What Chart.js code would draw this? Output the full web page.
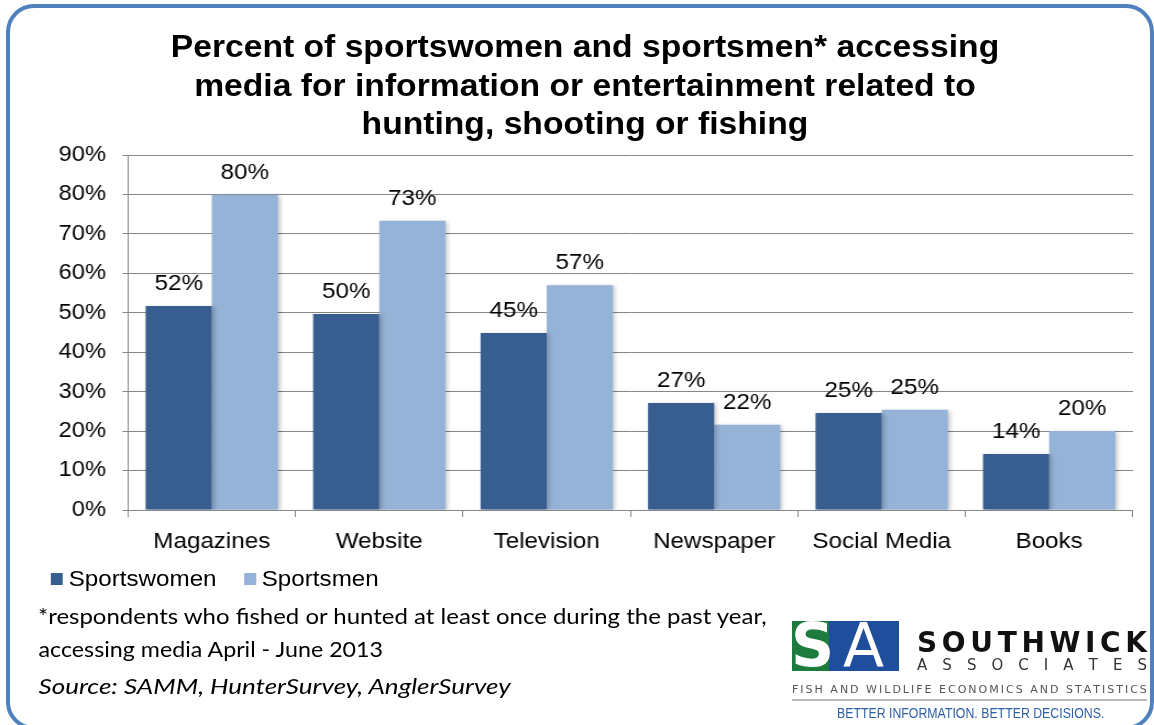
<!DOCTYPE html>
<html><head><meta charset="utf-8">
<script src="https://cdn.jsdelivr.net/npm/chart.js@4.4.1/dist/chart.umd.min.js"></script>
<style>
html,body{margin:0;padding:0;background:#fff;}
#wrap{position:relative;width:1154px;height:725px;overflow:hidden;font-family:"Liberation Sans",Arial,sans-serif;}
#scaled{position:absolute;left:0;top:0;width:1049px;height:725px;transform:scaleX(1.1);transform-origin:0 0;}
#frame{position:absolute;left:6px;top:4px;width:1148px;height:726px;border:4px solid #4F81BD;border-radius:28px;box-sizing:border-box;}
#c{position:absolute;left:0;top:0;}
#title{position:absolute;left:0;width:1063.6px;top:27px;text-align:center;font-weight:bold;font-size:30.6px;line-height:38.5px;color:#000;white-space:nowrap;}
#legend{position:absolute;left:46.4px;top:566px;font-size:22px;display:flex;align-items:center;}
.li{display:flex;align-items:center;margin-right:25px;}
.sw{width:11px;height:12px;margin-right:5px;}
.note{position:absolute;left:34.5px;font-family:Lato,"Open Sans",sans-serif;font-size:21.8px;color:#000;white-space:nowrap;transform-origin:0 0;}
.spread{display:flex;justify-content:space-between;white-space:pre;}
</style></head>
<body><div id="wrap">
<div id="scaled">
<canvas id="c" width="1049" height="725"></canvas>
<div id="title">Percent of sportswomen and sportsmen* accessing<br>media for information or entertainment related to<br>hunting, shooting or fishing</div>
<div id="legend"></div>
<div class="note" style="top:602px">*respondents who fished or hunted at least once during the past year,</div>
<div class="note" style="top:635px;transform:scaleX(0.969)">accessing media April - June 2013</div>
<div class="note" style="top:672px;font-style:italic;transform:scaleX(1.085)">Source: SAMM, HunterSurvey, AnglerSurvey</div>
</div>
<div id="frame"></div>
<div id="logo">
  <div style="position:absolute;left:792px;top:621px;width:37px;height:50px;background:#1E7B3E;"></div>
  <div style="position:absolute;left:829px;top:621px;width:70px;height:50px;background:#1F4E9C;"></div>
  <div style="position:absolute;left:791px;top:614px;width:60px;height:62px;font:bold 60px 'DejaVu Sans';color:#fff;line-height:62px;">S</div>
  <div style="position:absolute;left:843px;top:614px;width:60px;height:62px;font:60px 'DejaVu Sans';color:#fff;line-height:62px;">A</div>
  <div id="sw" class="spread" style="position:absolute;left:917px;top:628px;width:230px;font:900 28px 'DejaVu Sans';color:#111;line-height:29px;"></div>
  <div id="as" class="spread" style="position:absolute;left:917px;top:658px;width:230px;font:15px 'DejaVu Sans';color:#333;line-height:15px;"></div>
  <div id="fw" class="spread" style="position:absolute;left:792px;top:684px;width:355px;font:11px 'DejaVu Sans';color:#555;line-height:12px;"></div>
  <div style="position:absolute;left:792px;top:699px;width:355px;height:2px;background:#bbb;"></div>
  <div style="position:absolute;left:837px;top:705px;font:14px 'Liberation Sans';color:#2E5FA8;white-space:nowrap;transform:scaleX(0.88);transform-origin:0 0;">BETTER INFORMATION. BETTER DECISIONS.</div>
</div>
</div>
<script>
const categories = ['Magazines','Website','Television','Newspaper','Social Media','Books'];
const sportswomen = [51.7, 49.7, 44.9, 27.1, 24.6, 14.2];
const sportsmen = [79.9, 73.3, 57.0, 21.6, 25.4, 20.0];
const seriesNames = ['Sportswomen','Sportsmen'];
const seriesColors = ['#375E8F','#95B3D7'];
const yTicks = [0,10,20,30,40,50,60,70,80,90];

function spread(id, txt){ const el=document.getElementById(id); txt.split('').forEach(ch=>{const s=document.createElement('span');s.textContent=ch;el.appendChild(s);}); }
spread('sw','SOUTHWICK'); spread('as','ASSOCIATES'); spread('fw','FISH AND WILDLIFE ECONOMICS AND STATISTICS');

const lg=document.getElementById('legend');
seriesNames.forEach((n,i)=>{const d=document.createElement('div');d.className='li';d.innerHTML='<div class="sw" style="background:'+seriesColors[i]+'"></div><span>'+n+'</span>';lg.appendChild(d);});

const barFx = {
  id:'barFx',
  beforeDatasetsDraw(chart){
    const ctx=chart.ctx; ctx.save();
    ctx.shadowColor='rgba(0,0,0,0.22)'; ctx.shadowBlur=4; ctx.shadowOffsetX=2; ctx.shadowOffsetY=1;
  },
  afterDatasetsDraw(chart){
    const ctx=chart.ctx; ctx.restore(); ctx.save();
    ctx.font='22px "Liberation Sans", Arial'; ctx.fillStyle='#000'; ctx.textAlign='center'; ctx.textBaseline='middle';
    chart.data.datasets.forEach((ds,i)=>{
      chart.getDatasetMeta(i).data.forEach((bar,j)=>{
        ctx.fillText(Math.round(ds.data[j])+'%', bar.x, bar.y-22);
      });
    });
    ctx.restore();
  }
};

new Chart(document.getElementById('c'), {
  type:'bar',
  data:{ labels:categories, datasets:[
    {label:seriesNames[0], data:sportswomen, backgroundColor:seriesColors[0], categoryPercentage:0.79, barPercentage:1.0, borderWidth:0},
    {label:seriesNames[1], data:sportsmen, backgroundColor:seriesColors[1], categoryPercentage:0.79, barPercentage:1.0, borderWidth:0}
  ]},
  options:{
    responsive:false, animation:false, devicePixelRatio:1,
    layout:{padding:{left:27.3, top:155, right:19.1, bottom:165}},
    plugins:{legend:{display:false}, title:{display:false}, tooltip:{enabled:false}},
    scales:{
      x:{
        offset:true,
        grid:{drawOnChartArea:false, offset:true, color:'#868686', tickLength:7, lineWidth:1},
        border:{color:'#868686'},
        ticks:{color:'#000', font:{family:'"Liberation Sans", Arial', size:22}, padding:12, maxRotation:0},
        afterFit(s){ s.height=50; }
      },
      y:{
        min:0, max:90,
        afterBuildTicks(s){ s.ticks = yTicks.map(v=>({value:v})); },
        grid:{color:'#868686', tickLength:5, lineWidth:1},
        border:{color:'#868686'},
        ticks:{color:'#000', font:{family:'"Liberation Sans", Arial', size:21.5}, padding:15, callback:v=>v+'%'},
        afterFit(s){ s.width=89.1; }
      }
    }
  },
  plugins:[barFx]
});
</script>
</body></html>
